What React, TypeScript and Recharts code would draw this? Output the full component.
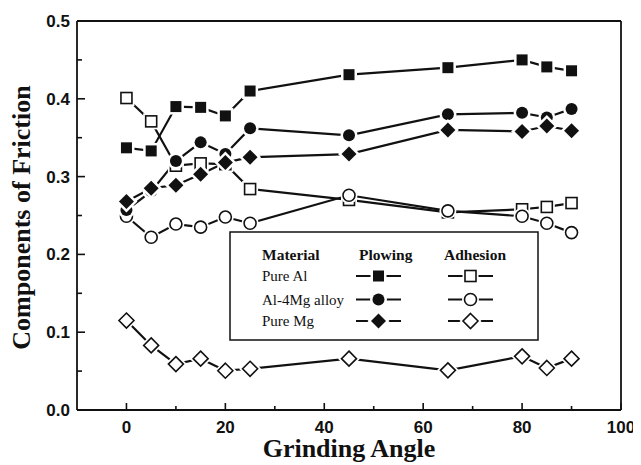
import { LineChart, Line, XAxis, YAxis, Label } from "recharts";

// grinding angle (deg)
const angles = [0, 5, 10, 15, 20, 25, 45, 65, 80, 85, 90];

// plowing component
const alPlowing = [0.337, 0.333, 0.39, 0.389, 0.378, 0.41, 0.431, 0.44, 0.45, 0.441, 0.436];
const alMgPlowing = [0.257, 0.281, 0.32, 0.344, 0.329, 0.362, 0.353, 0.38, 0.382, 0.376, 0.387];
const mgPlowing = [0.268, 0.285, 0.289, 0.303, 0.318, 0.325, 0.329, 0.36, 0.358, 0.365, 0.359];

// adhesion component
const alAdhesion = [0.401, 0.371, 0.314, 0.317, 0.316, 0.284, 0.27, 0.254, 0.258, 0.261, 0.266];
const alMgAdhesion = [0.249, 0.222, 0.239, 0.235, 0.248, 0.24, 0.276, 0.256, 0.249, 0.24, 0.228];
const mgAdhesion = [0.115, 0.083, 0.059, 0.066, 0.0505, 0.053, 0.066, 0.051, 0.069, 0.054, 0.066];

const materials = ["Pure Al", "Al-4Mg alloy", "Pure Mg"];

const xTicks = [0, 10, 20, 30, 40, 50, 60, 70, 80, 90, 100];
const xTickLabels = ["0", "", "20", "", "40", "", "60", "", "80", "", "100"];
const yTicks = [0, 0.05, 0.1, 0.15, 0.2, 0.25, 0.3, 0.35, 0.4, 0.45, 0.5];
const yTickLabels = ["0.0", "", "0.1", "", "0.2", "", "0.3", "", "0.4", "", "0.5"];

type Shape = "square" | "circle" | "diamond";

const series: { key: string; values: number[]; shape: Shape; filled: boolean }[] = [
  { key: "alAdhesion", values: alAdhesion, shape: "square", filled: false },
  { key: "alMgAdhesion", values: alMgAdhesion, shape: "circle", filled: false },
  { key: "mgAdhesion", values: mgAdhesion, shape: "diamond", filled: false },
  { key: "alMgPlowing", values: alMgPlowing, shape: "circle", filled: true },
  { key: "mgPlowing", values: mgPlowing, shape: "diamond", filled: true },
  { key: "alPlowing", values: alPlowing, shape: "square", filled: true },
];

const data = angles.map((a, i) => {
  const row: Record<string, number> = { angle: a };
  series.forEach((s) => {
    row[s.key] = s.values[i];
  });
  return row;
});

const INK = "#111";
const GAP = 2.5;
const W = 633;
const H = 457;
const MARGIN = { top: 13, right: 20, left: 9, bottom: 25 };
const Y_AXIS_W = 60;
const X_AXIS_H = 30;

function Marker({ cx, cy, shape, filled }: { cx: number; cy: number; shape: Shape; filled: boolean }) {
  const fill = filled ? INK : "#fff";
  const sw = filled ? 0 : 1.6;
  if (shape === "square") {
    const h = 5.5;
    const o = h + GAP;
    return (
      <g>
        <rect x={cx - o} y={cy - o} width={o * 2} height={o * 2} fill="#fff" />
        <rect x={cx - h} y={cy - h} width={h * 2} height={h * 2} fill={fill} stroke={INK} strokeWidth={sw} />
      </g>
    );
  }
  if (shape === "circle") {
    const r = 6;
    return (
      <g>
        <circle cx={cx} cy={cy} r={r + GAP} fill="#fff" />
        <circle cx={cx} cy={cy} r={r} fill={fill} stroke={INK} strokeWidth={sw} />
      </g>
    );
  }
  const d = 7.5;
  const o = d + GAP + 1;
  const pts = (k: number) => `${cx},${cy - k} ${cx + k},${cy} ${cx},${cy + k} ${cx - k},${cy}`;
  return (
    <g>
      <polygon points={pts(o)} fill="#fff" />
      <polygon points={pts(d)} fill={fill} stroke={INK} strokeWidth={sw} />
    </g>
  );
}

const XTick = (props: any) => {
  const { x, y, index } = props;
  const label = xTickLabels[index];
  return (
    <g>
      <line x1={x} y1={y} x2={x} y2={y - (label ? 7 : 4)} stroke={INK} strokeWidth={1.6} />
      {label && (
        <text x={x} y={y + 23} textAnchor="middle" fontFamily="Liberation Sans, Arial" fontWeight="bold" fontSize={17} fill={INK}>
          {label}
        </text>
      )}
    </g>
  );
};

const YTick = (props: any) => {
  const { x, y, index } = props;
  const label = yTickLabels[index];
  return (
    <g>
      <line x1={x} y1={y} x2={x + (label ? 8 : 5)} y2={y} stroke={INK} strokeWidth={1.6} />
      {label && (
        <text x={x - 7} y={y + 6} textAnchor="end" fontFamily="Liberation Sans, Arial" fontWeight="bold" fontSize={17} fill={INK}>
          {label}
        </text>
      )}
    </g>
  );
};

const titleFont = { fontFamily: "Liberation Serif, Times New Roman", fontWeight: "bold" as const, fontSize: 26, fill: INK };

function Frame() {
  const left = MARGIN.left + Y_AXIS_W;
  const right = W - MARGIN.right;
  const top = MARGIN.top;
  const bottom = H - MARGIN.bottom - X_AXIS_H;
  return (
    <svg width={W} height={H} style={{ position: "absolute", left: 0, top: 0, pointerEvents: "none" }}>
      <line x1={left} y1={top} x2={right} y2={top} stroke={INK} strokeWidth={1.8} />
      <line x1={right} y1={top} x2={right} y2={bottom} stroke={INK} strokeWidth={1.8} />
    </svg>
  );
}

function LegendBox() {
  const rows = [50, 73.5, 95];
  const plowShapes: Shape[] = ["square", "circle", "diamond"];
  return (
    <svg width={312} height={112} style={{ position: "absolute", left: 221, top: 223 }}>
      <rect x={1} y={1} width={308} height={108} fill="#fff" stroke={INK} strokeWidth={1.5} />
      <g fontFamily="Liberation Serif, Times New Roman" fill={INK}>
        <text x={33} y={28.5} fontWeight="bold" fontSize={15.5}>Material</text>
        <text x={130} y={28.5} fontWeight="bold" fontSize={15.5}>Plowing</text>
        <text x={215} y={28.5} fontWeight="bold" fontSize={15.5}>Adhesion</text>
        {materials.map((m, i) => (
          <g key={m}>
            <text x={33} y={rows[i]} fontSize={15}>{m}</text>
            <line x1={127} x2={172} y1={rows[i] - 5} y2={rows[i] - 5} stroke={INK} strokeWidth={2.2} />
            <Marker cx={149.5} cy={rows[i] - 5} shape={plowShapes[i]} filled />
            <line x1={219} x2={264} y1={rows[i] - 5} y2={rows[i] - 5} stroke={INK} strokeWidth={2.2} />
            <Marker cx={241.5} cy={rows[i] - 5} shape={plowShapes[i]} filled={false} />
          </g>
        ))}
      </g>
    </svg>
  );
}

export default function App() {
  return (
    <div style={{ position: "relative", width: W, height: H }}>
      <LineChart width={W} height={H} data={data} margin={MARGIN}>
        <XAxis
          dataKey="angle"
          type="number"
          domain={[-10, 100]}
          ticks={xTicks}
          interval={0}
          allowDataOverflow
          height={X_AXIS_H}
          tickSize={0}
          tickMargin={0}
          tickLine={false}
          tick={<XTick />}
          axisLine={{ stroke: INK, strokeWidth: 1.8 }}
        >
          <Label
            content={(p: any) => {
              const vb = p.viewBox;
              return (
                <text x={vb.x + vb.width / 2} y={vb.y + 47} textAnchor="middle" {...titleFont}>
                  Grinding Angle
                </text>
              );
            }}
          />
        </XAxis>
        <YAxis
          type="number"
          domain={[0, 0.5]}
          ticks={yTicks}
          interval={0}
          allowDataOverflow
          width={Y_AXIS_W}
          tickSize={0}
          tickMargin={0}
          tickLine={false}
          tick={<YTick />}
          axisLine={{ stroke: INK, strokeWidth: 1.8 }}
        >
          <Label
            content={(p: any) => {
              const vb = p.viewBox;
              const cx = 22;
              const cy = vb.y + vb.height / 2 + 2;
              return (
                <text x={cx} y={cy} textAnchor="middle" transform={`rotate(-90 ${cx} ${cy})`} {...titleFont}>
                  Components of Friction
                </text>
              );
            }}
          />
        </YAxis>
        {series.map((s) => (
          <Line
            key={s.key}
            dataKey={s.key}
            type="linear"
            stroke={INK}
            strokeWidth={2.2}
            isAnimationActive={false}
            activeDot={false}
            dot={(p: any) => (
              <Marker key={`${s.key}-${p.index}`} cx={p.cx} cy={p.cy} shape={s.shape} filled={s.filled} />
            )}
          />
        ))}
      </LineChart>
      <Frame />
      <LegendBox />
    </div>
  );
}
